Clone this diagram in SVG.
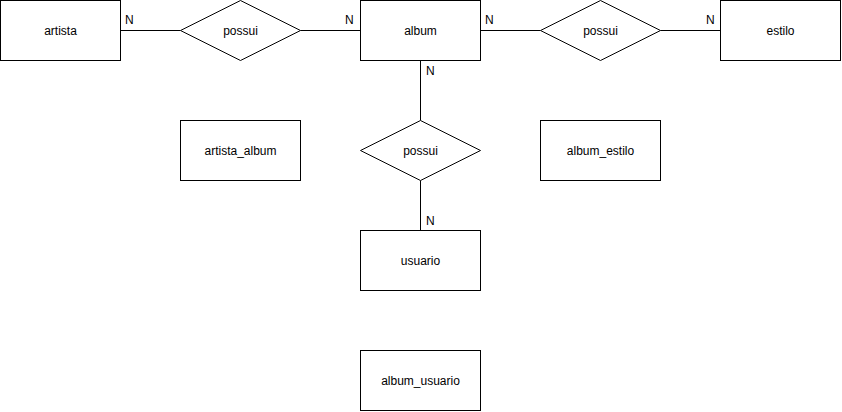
<svg xmlns="http://www.w3.org/2000/svg" width="842" height="412" viewBox="0 0 842 412">
<style>
.s{fill:#fff;stroke:#000;stroke-width:1}
.t{font-family:"Liberation Sans",Arial,sans-serif;font-size:12px;fill:#000;text-anchor:middle;dominant-baseline:central}
.n{font-family:"Liberation Sans",Arial,sans-serif;font-size:12px;fill:#000}
.c{stroke:#000;stroke-width:1;fill:none}
</style>
<rect width="842" height="412" fill="#fff"/>
<g id="connectors">
<path class="c" d="M120.5 30.5H180.5"/>
<path class="c" d="M300.5 30.5H360.5"/>
<path class="c" d="M480.5 30.5H540.5"/>
<path class="c" d="M660.5 30.5H720.5"/>
<path class="c" d="M420.5 60.5V120.5"/>
<path class="c" d="M420.5 180.5V230.5"/>
<text class="n" x="125" y="24">N</text>
<text class="n" x="345" y="24">N</text>
<text class="n" x="485" y="24">N</text>
<text class="n" x="706" y="24">N</text>
<text class="n" x="426" y="75">N</text>
<text class="n" x="426" y="225">N</text>
</g>
<g id="artista"><rect class="s" x="0.5" y="0.5" width="120" height="60"/><text class="t" x="60.5" y="30.5">artista</text></g>
<g id="possui1"><path class="s" d="M240.5 0.5L300.5 30.5L240.5 60.5L180.5 30.5Z"/><text class="t" x="240.5" y="30.5">possui</text></g>
<g id="album"><rect class="s" x="360.5" y="0.5" width="120" height="60"/><text class="t" x="420.5" y="30.5">album</text></g>
<g id="possui2"><path class="s" d="M600.5 0.5L660.5 30.5L600.5 60.5L540.5 30.5Z"/><text class="t" x="600.5" y="30.5">possui</text></g>
<g id="estilo"><rect class="s" x="720.5" y="0.5" width="120" height="60"/><text class="t" x="780.5" y="30.5">estilo</text></g>
<g id="artista_album"><rect class="s" x="180.5" y="120.5" width="120" height="60"/><text class="t" x="240.5" y="150.5">artista_album</text></g>
<g id="possui3"><path class="s" d="M420.5 120.5L480.5 150.5L420.5 180.5L360.5 150.5Z"/><text class="t" x="420.5" y="150.5">possui</text></g>
<g id="album_estilo"><rect class="s" x="540.5" y="120.5" width="120" height="60"/><text class="t" x="600.5" y="150.5">album_estilo</text></g>
<g id="usuario"><rect class="s" x="360.5" y="230.5" width="120" height="60"/><text class="t" x="420.5" y="260.5">usuario</text></g>
<g id="album_usuario"><rect class="s" x="360.5" y="350.5" width="120" height="60"/><text class="t" x="420.5" y="380.5">album_usuario</text></g>
</svg>
